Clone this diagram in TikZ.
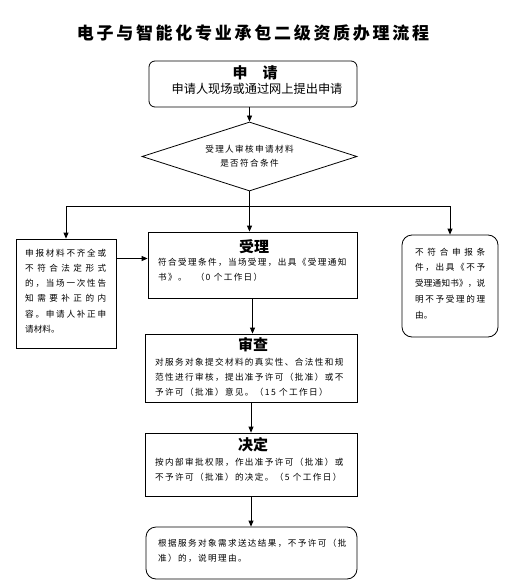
\documentclass[tikz,border=0pt]{standalone}
\usepackage{fontspec}
\setmainfont{Noto Sans CJK SC}
\newfontfamily\spaced[LetterSpace=16]{Noto Sans CJK SC}
\usetikzlibrary{shapes.geometric,arrows.meta}
% one justified line of fixed width
\newcommand\jl[2]{\leavevmode\hbox to #1{\jlnext#2\relax}}
\def\jlnext#1#2{#1\ifx\relax#2\else\hfil\expandafter\jlnext\expandafter#2\fi}
\begin{document}
\begin{tikzpicture}[x=1pt,y=-1pt,>={Triangle[length=6pt,width=5pt]},
    box/.style={draw,line width=0.8pt,inner sep=0pt},
    rbox/.style={box,rounded corners=10pt},
    head/.style={font=\bfseries\fontsize{15}{15}\selectfont,inner sep=0pt},
    body/.style={font=\spaced\fontsize{8.6}{15}\selectfont,align=left,inner sep=0pt,anchor=west}]
\useasboundingbox (0,0) rectangle (511,588);
\node[font=\spaced\bfseries\fontsize{17}{17}\selectfont,inner sep=0pt] (title) at (253,33) {电子与智能化专业承包二级资质办理流程};
% apply and check
\node[rbox,rounded corners=6pt,minimum width=208pt,minimum height=46pt] (apply) at (253,84) {};
\node[head] (applyhead) at (255,73) {申\hspace{1em}请};
\node[font=\fontsize{12.2}{12.2}\selectfont,inner sep=0pt] (applytext) at (257,89) {申请人现场或通过网上提出申请};
\node[box,diamond,shape aspect=3.1,minimum width=215pt,minimum height=69pt,align=center,
    font=\spaced\fontsize{8.6}{14}\selectfont] (check) at (249.5,156.5) {受理人审核申请材料\\是否符合条件};
% three outcomes
\node[box,minimum width=100pt,minimum height=109pt] (fix) at (66,293.5) {};
\node[body,font=\fontsize{8.6}{15.3}\selectfont] (fixtext) at (25,291) {\jl{81pt}{申报材料不齐全或}\\\jl{81pt}{不符合法定形式}\\\jl{81pt}{的，当场一次性告}\\\jl{81pt}{知需要补正的内}\\\jl{81pt}{容。申请人补正申}\\请材料。};
\node[box,minimum width=209pt,minimum height=66pt] (accept) at (252.5,265) {};
\node[head] (accepthead) at (254,247) {受理};
\node[body] (accepttext) at (158,269.5) {符合受理条件，当场受理，出具《受理通知\\书》。\hspace{9pt}（0 个工作日）};
\node[rbox,minimum width=96pt,minimum height=102pt] (refuse) at (450,286) {};
\node[body,font=\fontsize{8.6}{15.7}\selectfont] (refusetext) at (415,283.4) {\jl{70pt}{不符合申报条}\\\jl{70pt}{件，出具《不予}\\\jl{70pt}{受理通知书》，说}\\\jl{70pt}{明不予受理的理}\\由。};
% review, decide, result
\node[box,minimum width=212pt,minimum height=68pt] (review) at (251,368) {};
\node[head] (reviewhead) at (253,345) {审查};
\node[body] (reviewtext) at (155,377) {对服务对象提交材料的真实性、合法性和规\\范性进行审核，提出准予许可（批准）或不\\予许可（批准）意见。（15 个工作日）};
\node[box,minimum width=212pt,minimum height=63pt] (decide) at (251,464.5) {};
\node[head] (decidehead) at (253,445) {决定};
\node[body] (decidetext) at (155,469.5) {按内部审批权限，作出准予许可（批准）或\\不予许可（批准）的决定。（5 个工作日）};
\node[rbox,minimum width=211pt,minimum height=52pt] (result) at (251.5,553) {};
\node[body] (resulttext) at (158,550.5) {根据服务对象需求送达结果，不予许可（批\\准）的，说明理由。};
% connectors
\coordinate (split) at ([yshift=-15pt]check.south);
\draw[->,line width=0.8pt] (check.north |- apply.south) -- (check.north);
\draw[line width=0.8pt] (check.south) -- (split);
\draw[->,line width=0.8pt] (split) -| (fix.north);
\draw[->,line width=0.8pt] (split) -| (refuse.north);
\draw[->,line width=0.8pt] (split) -- (split |- accept.north);
\draw[->,line width=0.8pt] ([yshift=35pt]fix.east) -- ([yshift=35pt]fix.east -| accept.west);
\draw[->,line width=0.8pt] (accept.south) -- (accept.south |- review.north);
\draw[->,line width=0.8pt] (review) -- (decide);
\draw[->,line width=0.8pt] (decide.south) -- (decide.south |- result.north);
\end{tikzpicture}
\end{document}
